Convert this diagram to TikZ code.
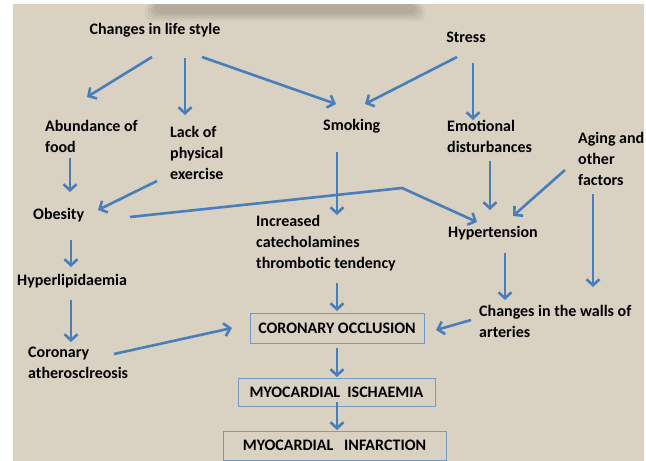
\documentclass[tikz,border=0pt]{standalone}
\usepackage{fontspec}
\setmainfont{Carlito}
\usetikzlibrary{arrows.meta}
\definecolor{bgbeige}{HTML}{D9D1C2}
\definecolor{smudge}{HTML}{8F877B}
\definecolor{arrowblue}{HTML}{4A7EBB}
\definecolor{boxblue}{HTML}{6F9BCF}
\begin{document}
\begin{tikzpicture}[x=1pt,y=-1pt,
  lbl/.style={font=\fontsize{16}{21}\selectfont\bfseries, inner sep=0pt, align=left, anchor=west, text=black},
  clbl/.style={font=\fontsize{16}{21}\selectfont\bfseries, inner sep=0pt, anchor=center, text=black},
  boxlbl/.style={font=\fontsize{16}{21}\selectfont\bfseries, draw=boxblue, line width=0.8pt, inner sep=0pt, anchor=center, text=black},
  arr/.style={draw=arrowblue, line width=2.6pt, -{Straight Barb[length=6pt,width=13pt]}}]
\useasboundingbox (0,0) rectangle (646,461);
\fill[white] (0,0) rectangle (646,461);
\fill[bgbeige] (13,4) rectangle (644,461);
% blurred band at top
\foreach \o/\d in {0.12/0, 0.14/3, 0.16/6, 0.18/9}{
  \fill[smudge, opacity=\o, rounded corners=6pt] (145+\d,4) rectangle (425-\d,21-\d*0.8);
}

% labels
\node[clbl] (chg) at (155,30) {Changes in life style};
\node[clbl] (stress) at (466,37) {Stress};
\node[lbl] (abund) at (45,136) {Abundance of\\food};
\node[lbl] (lack) at (170,153) {Lack of\\physical\\exercise};
\node[lbl] (smok) at (323,126) {Smoking};
\node[lbl] (emot) at (447,136) {Emotional\\disturbances};
\node[lbl] (aging) at (578,159) {Aging and\\other\\factors};
\node[lbl] (obes) at (33,215) {Obesity};
\node[lbl] (incr) at (256,243) {Increased\\catecholamines\\thrombotic tendency};
\node[lbl] (hyp) at (448,233) {Hypertension};
\node[lbl] (hyperl) at (17,281) {Hyperlipidaemia};
\node[lbl] (walls) at (479,321) {Changes in the walls of\\arteries};
\node[lbl] (coron) at (28,363) {Coronary\\atherosclreosis};
\node[boxlbl, minimum width=174pt, minimum height=30pt] (occl) at (337,328) {CORONARY OCCLUSION};
\node[boxlbl, minimum width=197pt, minimum height=28pt] (isch) at (336.5,392) {MYOCARDIAL\ \ ISCHAEMIA};
\node[boxlbl, minimum width=223pt, minimum height=29pt] (infarc) at (334.5,445.5) {MYOCARDIAL\ \ \ INFARCTION};

% connectors (shifts relative to anchor points placed above)
\draw[arr] ([shift={(-3,27)}]chg.center) -- ([shift={(42,-39)}]abund.west);
\draw[arr] ([shift={(30,28)}]chg.center) -- ([shift={(15,-38)}]lack.west);
\draw[arr] ([shift={(47,27)}]chg.center) -- ([shift={(13,-22)}]smok.west);
\draw[arr] ([shift={(-9,20)}]stress.center) -- ([shift={(42,-22)}]smok.west);
\draw[arr] ([shift={(7,26)}]stress.center) -- ([shift={(26,-16)}]emot.west);
\draw[arr] ([shift={(25,22)}]abund.west) -- ([shift={(37,-23)}]obes.west);
\draw[arr] ([shift={(-13,28)}]lack.west) -- ([shift={(65,-5)}]obes.west);
\draw[arr] ([shift={(97,2)}]obes.west) -- ([shift={(-46,-45)}]hyp.west) -- ([shift={(29,-11)}]hyp.west);
\draw[arr] ([shift={(14,26)}]smok.west) -- ([shift={(81,-28)}]incr.west);
\draw[arr] ([shift={(43,25)}]emot.west) -- ([shift={(42,-23)}]hyp.west);
\draw[arr] ([shift={(-13,11)}]aging.west) -- ([shift={(65,-17)}]hyp.west);
\draw[arr] ([shift={(38,25)}]obes.west) -- ([shift={(54,-14)}]hyperl.west);
\draw[arr] ([shift={(54,19)}]hyperl.west) -- ([shift={(43,-21)}]coron.west);
\draw[arr] ([shift={(81,40)}]incr.west) -- ([shift={(0,-17)}]occl.center);
\draw[arr] ([shift={(57,20)}]hyp.west) -- ([shift={(26,-21)}]walls.west);
\draw[arr] ([shift={(15,35)}]aging.west) -- ([shift={(114,-34)}]walls.west);
\draw[arr] ([shift={(-8,-1)}]walls.west) -- ([shift={(99,2)}]occl.center);
\draw[arr] ([shift={(86,-9)}]coron.west) -- ([shift={(-105,0)}]occl.center);
\draw[arr] ([shift={(0,20)}]occl.center) -- ([shift={(0.5,-15)}]isch.center);
\draw[arr] ([shift={(0.5,10)}]isch.center) -- ([shift={(2.5,-15.5)}]infarc.center);
\end{tikzpicture}
\end{document}
